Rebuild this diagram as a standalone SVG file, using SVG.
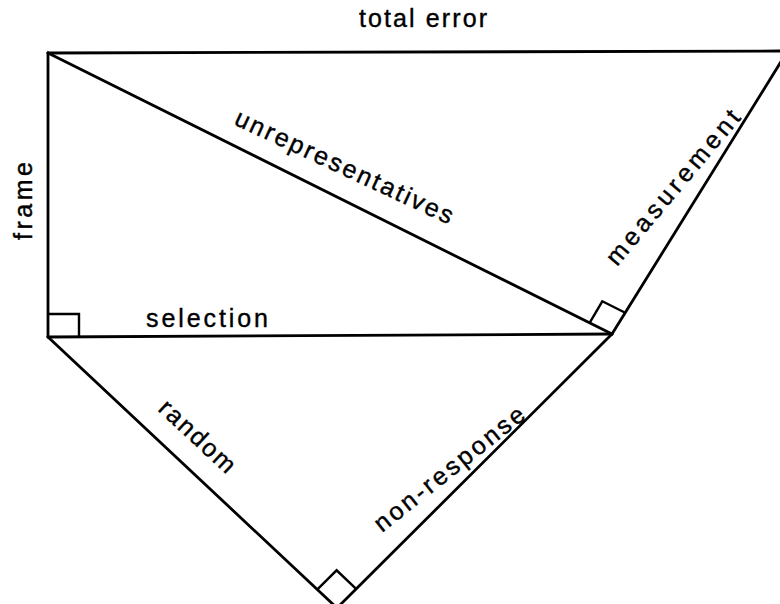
<svg xmlns="http://www.w3.org/2000/svg" width="780" height="604" viewBox="0 0 780 604">
<style>
.ln{stroke:#000;stroke-width:2.8;fill:none;stroke-linecap:round;stroke-linejoin:miter}
.bx{stroke:#000;stroke-width:2.4;fill:none}
.lb{font-family:"Liberation Sans",Arial,Helvetica,sans-serif;font-size:25px;fill:#000;stroke:#000;stroke-width:0.4}
</style>
<rect width="780" height="604" fill="#fff"/>
<g id="connectors">
<path class="ln" d="M48,53 L782,51"/>
<path class="ln" d="M48,53 L48,337"/>
<path class="ln" d="M48,53 L612,334"/>
<path class="ln" d="M48,337 L612,334"/>
<path class="ln" d="M612,334 L787,52"/>
<path class="ln" d="M48,337 L337,608"/>
<path class="ln" d="M612,334 L337,608"/>
</g>
<g id="right-angles">
<path class="bx" d="M48,314 H79 V336"/>
<path class="bx" d="M589.6,322.8 L602.3,301.3 L624.7,312.5"/>
<path class="bx" d="M317.4,589.4 L336.6,570.3 L356.1,588.9"/>
</g>
<g id="labels">
<g id="total-error"><text class="lb" x="359" y="27" textLength="128" lengthAdjust="spacing">total error</text></g>
<g id="frame"><text class="lb" transform="translate(32,240) rotate(-90)" textLength="78" lengthAdjust="spacing">frame</text></g>
<g id="unrepresentatives"><text class="lb" transform="translate(233,124) rotate(25)" textLength="238" lengthAdjust="spacing">unrepresentatives</text></g>
<g id="measurement"><text class="lb" transform="translate(617,267) rotate(-50)" textLength="194" lengthAdjust="spacing">measurement</text></g>
<g id="selection"><text class="lb" x="146" y="327" textLength="122" lengthAdjust="spacing">selection</text></g>
<g id="random"><text class="lb" transform="translate(157,410) rotate(43)" textLength="95" lengthAdjust="spacing">random</text></g>
<g id="non-response"><text class="lb" transform="translate(382,533) rotate(-38.5)" textLength="185" lengthAdjust="spacing">non-response</text></g>
</g>
</svg>
